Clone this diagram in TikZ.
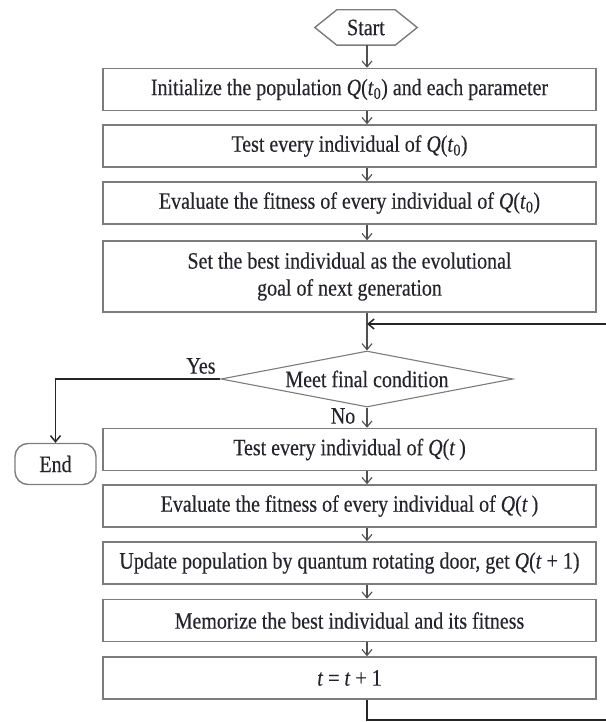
\documentclass[tikz,border=0pt]{standalone}
\usepackage{fontspec}
\setmainfont{Liberation Serif}[FakeStretch=0.85, FakeBold=0.35]
\usetikzlibrary{arrows.meta,shapes.geometric,calc}

\definecolor{boxline}{HTML}{7C7C7C}
\definecolor{flowline}{HTML}{505050}
\definecolor{loopline}{HTML}{262626}
\definecolor{ink}{HTML}{24242C}

% population symbols
\newcommand{\popzero}{\textit{Q}(\textit{t}\textsubscript{0})}
\newcommand{\popat}[1]{\textit{Q}(#1)}

\begin{document}
\begin{tikzpicture}[x=1pt,y=-1pt,
  every node/.style={font=\fontsize{23.5}{27}\selectfont, text=ink},
  procbox/.style={draw=boxline, line width=1.5pt, minimum width=493pt,
    minimum height=42pt, inner sep=0pt, align=center},
  endbox/.style={draw=boxline, line width=1.4pt, rounded corners=13pt,
    minimum width=81pt, minimum height=41pt, inner sep=0pt},
  decision/.style={diamond, shape aspect=5, draw=boxline, line width=1.1pt,
    minimum width=292pt, minimum height=56pt, inner sep=0pt},
  flow/.style={draw=flowline, line width=1.1pt,
    -{Straight Barb[length=6pt,width=10pt]}},
  backflow/.style={draw=loopline, line width=1.5pt,
    -{Straight Barb[length=6pt,width=10pt]}},
  lbl/.style={inner sep=0pt}
]
\useasboundingbox (0,0) rectangle (605,722);

% main column
\coordinate (spine) at (367,0);

\node[minimum width=102pt, minimum height=35pt, inner sep=0pt] (start) at (366,27.5) {Start};
\draw[boxline, line width=1.4pt]
  (start.west) -- ($(start.north west)+(22,0)$) -- ($(start.north east)+(-22,0)$)
  -- (start.east) -- ($(start.south east)+(-22,0)$) -- ($(start.south west)+(22,0)$) -- cycle;

\node[procbox] (init) at (349.5,89.5) {Initialize the population \popzero\ and each parameter};
\node[procbox] (test0) at (349.5,146) {Test every individual of \popzero};
\node[procbox] (eval0) at (349.5,203) {Evaluate the fitness of every individual of \popzero};
\node[procbox, minimum height=71pt] (goal) at (349.5,276.5)
  {Set the best individual as the evolutional\\goal of next generation};

\node[decision] (cond) at (367,379) {Meet final condition};

\node[procbox] (test) at (349.5,449.5) {Test every individual of \popat{\textit{t}\,}};
\node[procbox] (eval) at (349.5,506) {Evaluate the fitness of every individual of \popat{\textit{t}\,}};
\node[procbox] (update) at (349.5,563)
  {Update population by quantum rotating door, get \popat{\textit{t} + 1}};
\node[procbox] (memo) at (349.5,620.5) {Memorize the best individual and its fitness};
\node[procbox] (tinc) at (349.5,678) {\textit{t} = \textit{t} + 1};

\node[endbox] (end) at (55.5,464) {End};

% labels on the decision
\node[lbl] (yes) at (201,366) {Yes};
\node[lbl] (no) at (343,416) {No};

% forward connectors
\draw[flow] (start.south -| spine) -- (init.north -| spine);
\draw[flow] (init.south -| spine) -- (test0.north -| spine);
\draw[flow] (test0.south -| spine) -- (eval0.north -| spine);
\draw[flow] (eval0.south -| spine) -- (goal.north -| spine);
\draw[flow] (goal.south -| spine) -- (cond.north);
\draw[flow] (cond.south) -- (test.north -| spine);
\draw[flow] (test.south -| spine) -- (eval.north -| spine);
\draw[flow] (eval.south -| spine) -- (update.north -| spine);
\draw[flow] (update.south -| spine) -- (memo.north -| spine);
\draw[flow] (memo.south -| spine) -- (tinc.north -| spine);

% exit branch
\draw[backflow] (cond.west) -| (end.north);

% loop back to the condition
\coordinate (loopcorner) at (608,720);
\coordinate (join) at (367,324);
\draw[backflow] (tinc.south -| spine) |- (loopcorner) |- (join);
\end{tikzpicture}
\end{document}
